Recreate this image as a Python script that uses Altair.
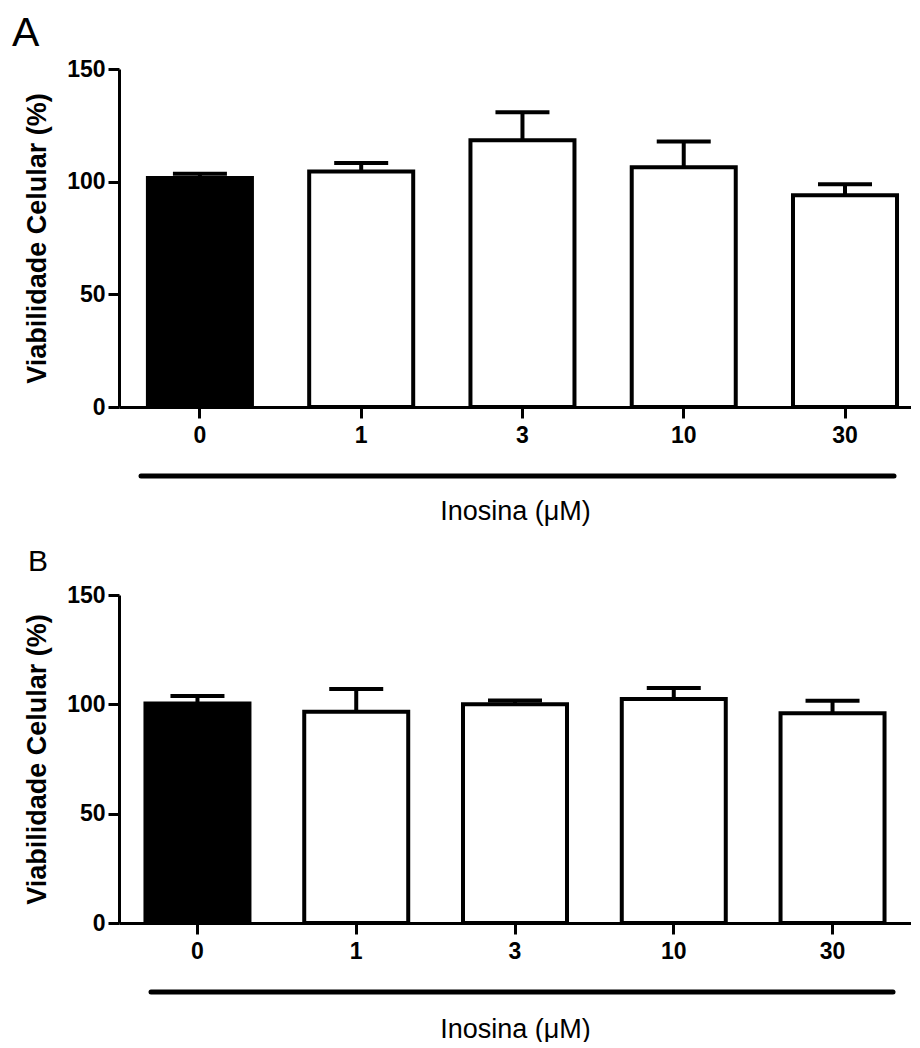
import altair as alt
import pandas as pd

doses = ["0", "1", "3", "10", "30"]
fills = ["black", "white", "white", "white", "white"]

mean_a = [101.6, 104.5, 118.4, 106.4, 94.0]
err_a = [1.9, 3.8, 12.4, 11.4, 4.8]

mean_b = [100.4, 96.6, 100.0, 102.4, 95.9]
err_b = [3.4, 10.4, 1.8, 5.1, 5.7]

y_ticks = [0, 50, 100, 150]
FONT = "Liberation Sans"


def panel(letter, means, errs, width, height, align, po, pi,
          letter_size, letter_dx, letter_offset, line_x, line_x2, line_y, title_y):
    df = pd.DataFrame({
        "dose": doses,
        "mean": means,
        "upper": [m + e for m, e in zip(means, errs)],
        "fill": fills,
    })
    yscale = alt.Scale(domain=[0, 150], nice=False, zero=True)
    xscale = alt.Scale(paddingInner=pi, paddingOuter=po, align=align)
    x = alt.X("dose:N", sort=doses, scale=xscale,
              axis=alt.Axis(title="Inosina (μM)", labelAngle=0, labelFont=FONT,
                            labelFontSize=23, labelFontWeight="bold", labelColor="black",
                            labelPadding=6, tickSize=11, tickWidth=3, tickColor="black",
                            domainColor="black", domainWidth=3,
                            titleFont=FONT, titleFontSize=27, titleFontWeight="normal",
                            titleColor="black", titleY=title_y, titleBaseline="middle"))
    y = alt.Y("mean:Q", scale=yscale,
              axis=alt.Axis(values=y_ticks, title="Viabilidade Celular (%)", grid=False,
                            labelFont=FONT, labelFontSize=23, labelFontWeight="bold",
                            labelColor="black", labelPadding=3, tickSize=11, tickWidth=3,
                            tickColor="black", domainColor="black", domainWidth=3,
                            titleFont=FONT, titleFontSize=27, titleFontWeight="bold",
                            titleColor="black", titleX=-82, titleY=height / 2,
                            titleBaseline="middle"))
    base = alt.Chart(df)
    bars = base.mark_bar(stroke="black", strokeWidth=4).encode(
        x=x, y=y, fill=alt.Fill("fill:N", scale=None))
    stem = base.mark_rule(color="black", strokeWidth=4).encode(
        x=alt.X("dose:N", sort=doses), y=alt.Y("mean:Q", scale=yscale), y2="upper:Q")
    cap = base.mark_tick(color="black", thickness=4, size=54, opacity=1).encode(
        x=alt.X("dose:N", sort=doses), y=alt.Y("upper:Q", scale=yscale))
    line = alt.Chart(pd.DataFrame({"k": [0]})).mark_rule(
        color="black", strokeWidth=5, strokeCap="round").encode(
        x=alt.value(line_x), x2=alt.value(line_x2), y=alt.value(line_y))
    return alt.layer(bars, stem, cap, line).properties(
        width=width, height=height,
        title=alt.TitleParams(text=letter, anchor="start", frame="group", dx=letter_dx,
                              offset=letter_offset, fontSize=letter_size,
                              fontWeight="normal", font=FONT, color="black",
                              baseline="alphabetic"))


pa = panel("A", mean_a, err_a, 792, 338, 0.674, 0.133, 0.355,
           41, -107, -29, 22, 775, 407, 104)
pb = panel("B", mean_b, err_b, 792, 328, 0.5, 0.1667, 0.345,
           30, -91, -17, 32, 774, 397, 106)

chart = alt.vconcat(pa, pb, spacing=188, bounds="flush").properties(
    padding={"left": 4, "top": 5, "right": 0, "bottom": 0},
    background="white",
).configure_view(strokeWidth=0, stroke="transparent")

chart.save("out.html", embed_options={"renderer": "svg", "actions": False})
